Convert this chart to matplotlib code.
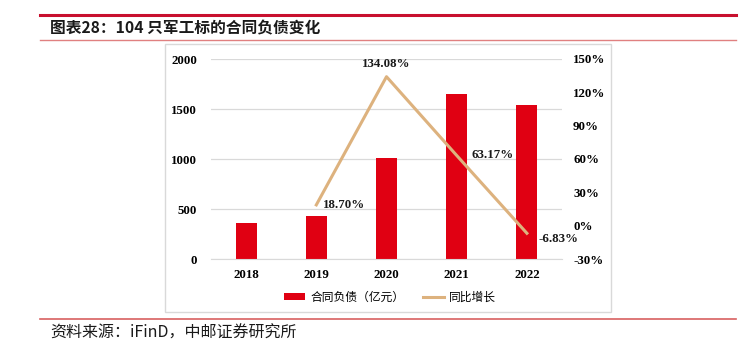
import matplotlib
matplotlib.use("Agg")
import matplotlib.pyplot as plt
from matplotlib.lines import Line2D
from matplotlib.patches import Rectangle, Patch

years = ["2018", "2019", "2020", "2021", "2022"]
liabilities = [364, 432, 1011, 1650, 1537]
growth_years = ["2019", "2020", "2021", "2022"]
growth = [18.70, 134.08, 63.17, -6.83]
growth_labels = ["18.70%", "134.08%", "63.17%", "-6.83%"]
left_ticks = [0, 500, 1000, 1500, 2000]
right_ticks = [-30, 0, 30, 60, 90, 120, 150]

W, H = 756, 356
BAR_RED = "#E00012"
LINE_TAN = "#DDB27E"
GRID = "#D9D9D9"
NUMFONT = "Liberation Serif"
CJK = ["Noto Sans CJK SC", "DejaVu Sans"]

fig = plt.figure(figsize=(W / 100, H / 100), dpi=100)

def fx(x):
    return x / W

def fy(y):
    return 1 - y / H

# header / footer lines
fig.add_artist(Line2D([fx(40), fx(736)], [fy(14.5), fy(14.5)], color="#C8102E", lw=2.2))
fig.add_artist(Line2D([fx(40), fx(736)], [fy(39.5), fy(39.5)], color="#E08080", lw=1.0))
fig.add_artist(Line2D([fx(40), fx(736)], [fy(319), fy(319)], color="#D86060", lw=1.2))
fig.text(fx(50), fy(28), "图表28：104 只军工标的合同负债变化", family=CJK, fontsize=11.3,
         fontweight="bold", va="center", ha="left", color="#1a1a1a")
fig.text(fx(50), fy(333), "资料来源：iFinD，中邮证券研究所", family=CJK, fontsize=11.5,
         va="center", ha="left", color="#1a1a1a")

# chart frame
fig.add_artist(Rectangle((fx(165), fy(312)), fx(611) - fx(165), fy(44) - fy(312),
                         transform=fig.transFigure, fill=False, edgecolor=GRID, lw=1.0))

ax = fig.add_axes([fx(211), fy(259), fx(562) - fx(211), fy(59) - fy(259)])
x = list(range(len(years)))
ax.bar(x, liabilities, width=0.3, color=BAR_RED, zorder=2)
ax.set_xlim(-0.5, len(years) - 0.5)
ax.set_ylim(0, 2000)
ax.set_yticks(left_ticks)
ax.set_xticks(x)
ax.set_xticklabels(years)
for s in ["top", "right", "left"]:
    ax.spines[s].set_visible(False)
ax.spines["bottom"].set_color(GRID)
ax.grid(axis="y", color=GRID, lw=0.9, zorder=0)
ax.set_axisbelow(True)
ax.tick_params(axis="both", length=0)
ax.tick_params(axis="y", pad=10)
ax.tick_params(axis="x", pad=7)
for lab in ax.get_xticklabels() + ax.get_yticklabels():
    lab.set_fontfamily(NUMFONT)
    lab.set_fontweight("bold")
    lab.set_fontsize(9.3)

ax2 = ax.twinx()
gx = [years.index(y) for y in growth_years]
ax2.plot(gx, growth, color=LINE_TAN, lw=2.2, zorder=3)
ax2.set_ylim(-30, 150)
ax2.set_yticks(right_ticks)
ax2.set_yticklabels([f"{t}%" for t in right_ticks])
for s in ["top", "right", "left", "bottom"]:
    ax2.spines[s].set_visible(False)
ax2.tick_params(axis="y", length=0, pad=8)
for lab in ax2.get_yticklabels():
    lab.set_fontfamily(NUMFONT)
    lab.set_fontweight("bold")
    lab.set_fontsize(9.3)

offsets = [((5, 0), "left", "center"), ((0, 5), "center", "bottom"),
           ((11, 0), "left", "center"), ((8, -4), "left", "center")]
for xi, yi, lab, (off, ha, va) in zip(gx, growth, growth_labels, offsets):
    ax2.annotate(lab, (xi, yi), xytext=off, textcoords="offset points", ha=ha, va=va,
                 fontfamily=NUMFONT, fontweight="bold", fontsize=9.3, color="#1a1a1a")

handles = [Patch(facecolor=BAR_RED, edgecolor="none"),
           Line2D([0], [0], color=LINE_TAN, lw=2.2)]
fig.legend(handles, ["合同负债（亿元）", "同比增长"], loc="center",
           bbox_to_anchor=(fx(390), fy(297)), ncol=2, frameon=False,
           prop={"family": CJK, "size": 8.5}, handlelength=1.8, handleheight=0.5,
           columnspacing=1.6, handletextpad=0.4)

fig.savefig("out.png", dpi=100)
